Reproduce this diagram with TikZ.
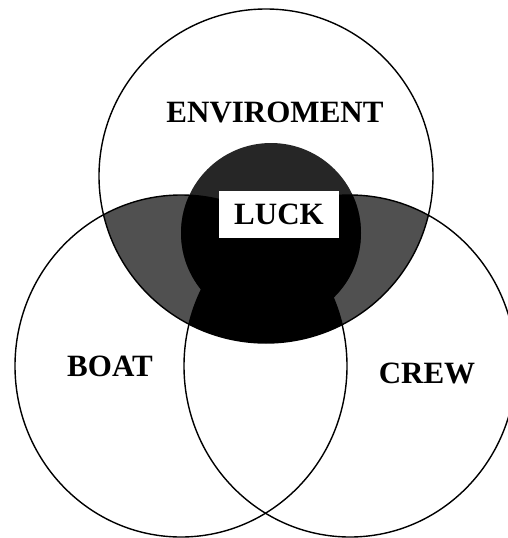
\documentclass[tikz,border=0pt]{standalone}
\usepackage{fontspec}
\setmainfont{Liberation Serif}
\usepackage{tikz}
\usetikzlibrary{positioning}
\definecolor{ink}{HTML}{000000}
\definecolor{sharegray}{HTML}{505050}
\definecolor{luckgray}{HTML}{262626}
\tikzset{
  ring/.style={draw=ink,line width=1.4pt},
  setlabel/.style={font=\bfseries\fontsize{31}{35}\selectfont,inner sep=0pt,text=ink},
  luckbox/.style={setlabel,fill=white,minimum width=120pt,minimum height=47pt}
}
\newcommand{\envset}{(266,176) circle [radius=167pt]}
\newcommand{\boatset}{(181,366) ellipse [x radius=166pt,y radius=171pt]}
\newcommand{\crewset}{(350,366) ellipse [x radius=166pt,y radius=171pt]}
\newcommand{\luckset}{(271,233) circle [radius=90pt]}

\begin{document}
\begin{tikzpicture}[x=1pt,y=-1pt]
\useasboundingbox (0,0) rectangle (508,538);
% shared areas
\begin{scope}
  \clip \envset;
  \fill[sharegray] \boatset;
  \fill[sharegray] \crewset;
  \fill[luckgray] \luckset;
\end{scope}
\begin{scope}
  \clip \luckset;
  \fill[ink] \boatset;
  \fill[ink] \crewset;
\end{scope}
\begin{scope}
  \clip \envset;
  \clip \boatset;
  \fill[ink] \crewset;
\end{scope}
% outlines
\draw[ring] \envset;
\draw[ring] \boatset;
\draw[ring] \crewset;
% labels
\node[setlabel] (env) at (275,112) {ENVIROMENT};
\node[setlabel] (boat) at (110,366) {BOAT};
\node[setlabel] (crew) at (427,373) {CREW};
\node[luckbox] (luck) at (279,214) {LUCK};
\end{tikzpicture}
\end{document}
